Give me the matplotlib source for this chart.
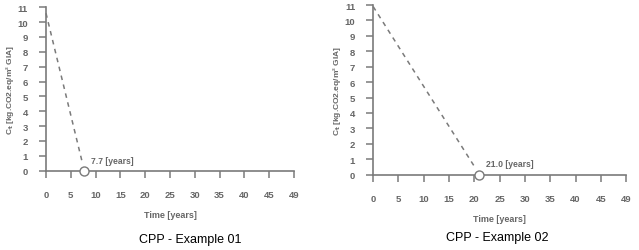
import matplotlib.pyplot as plt

plt.rcParams['font.family'] = ['Liberation Sans', 'DejaVu Sans']

# data
x_ticks = [0, 5, 10, 15, 20, 25, 30, 35, 40, 45, 50]
x_labels = ['0', '5', '10', '15', '20', '25', '30', '35', '40', '45', '49']
y_ticks = list(range(0, 12))

start_values = [10.6, 10.9]
payback_years = [7.7, 21.0]
captions = ['CPP - Example 01', 'CPP - Example 02']

grey = '#7a7a7a'
label_grey = '#666666'

fig = plt.figure(figsize=(6.39, 2.51), dpi=100)
axes_pos = [[0.072, 0.316, 0.388, 0.651], [0.584, 0.300, 0.396, 0.676]]
caption_pos = [(0.297, 0.045), (0.778, 0.052)]

for i in range(2):
    ax = fig.add_axes(axes_pos[i])
    y0 = start_values[i]
    t = payback_years[i]
    ax.plot([0, t * 0.96], [y0, 0.45], linestyle=(0, (3, 3)), color=grey,
            lw=1.1, clip_on=False, zorder=2)
    ax.plot([t], [0], marker='o', ms=6.5, mfc='white', mec=grey, mew=1.0,
            clip_on=False, zorder=3)
    ax.text(t + 1.3, 0.55, f'{t:.1f} [years]', fontsize=6.2,
            fontweight='bold', color=label_grey)

    ax.set_xlim(0, 50)
    ax.set_ylim(0, 11)
    ax.set_xticks(x_ticks)
    ax.set_xticklabels(x_labels)
    ax.set_yticks(y_ticks)
    for s in ['top', 'right']:
        ax.spines[s].set_visible(False)
    for s in ['left', 'bottom']:
        ax.spines[s].set_color(grey)
        ax.spines[s].set_linewidth(1.2)
    ax.tick_params(axis='both', direction='out', length=5, width=1.1,
                   color=grey, labelsize=6.8, labelcolor=label_grey)
    ax.tick_params(axis='x', pad=9)
    ax.tick_params(axis='y', pad=8)
    for lab in ax.get_xticklabels() + ax.get_yticklabels():
        lab.set_fontweight('bold')
    ax.set_xlabel('Time [years]', fontsize=6.5, fontweight='bold',
                  color=label_grey, labelpad=8)
    ax.set_ylabel('C$_\\mathbf{t}$ [kg.CO2.eq/m² GIA]', fontsize=6,
                  fontweight='bold', color=label_grey, labelpad=1)
    fig.text(caption_pos[i][0], caption_pos[i][1], captions[i],
             ha='center', va='center', fontsize=9, color='black')

fig.savefig('out.png', dpi=100)
